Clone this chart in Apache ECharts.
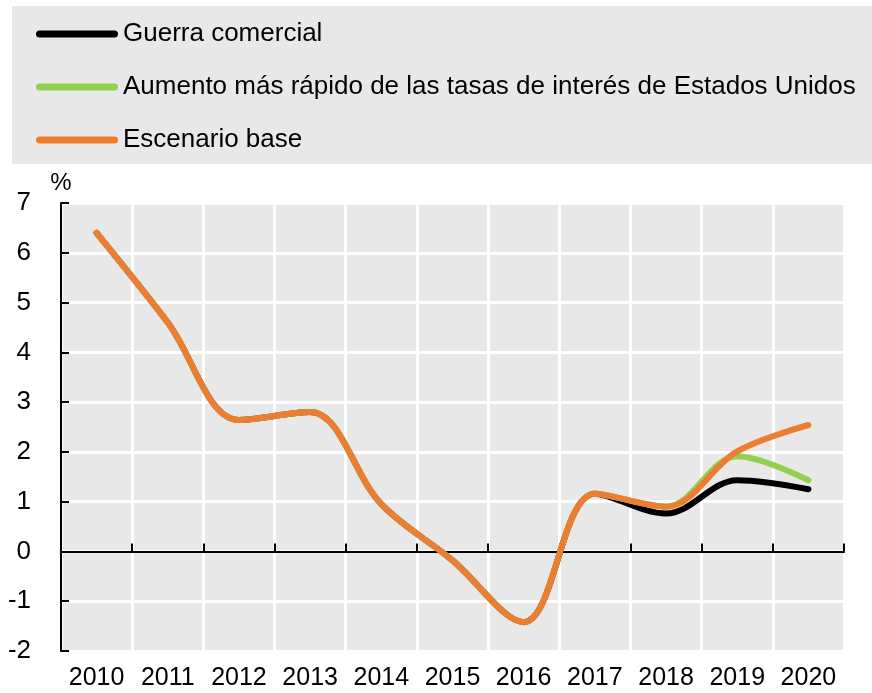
<!DOCTYPE html>
<html>
<head>
<meta charset="utf-8">
<script src="https://cdn.jsdelivr.net/npm/echarts@6/dist/echarts.min.js"></script>
<style>
    html,body{margin:0;padding:0;background:#fff;}
    #chart{width:872px;height:693px;}
</style>
</head>
<body>
<div id="chart"></div>
<script>
    "use strict";
    //年份
    let years = ["2010","2011","2012","2013","2014","2015","2016","2017","2018","2019","2020"];
    //三个情景
    let guerra = [6.4,4.6,2.64,2.8,0.95,-0.18,-1.42,1.16,0.76,1.43,1.25];
    let aumento = [6.4,4.6,2.64,2.8,0.95,-0.18,-1.42,1.16,0.9,1.91,1.43];
    let base = [6.4,4.6,2.64,2.8,0.95,-0.18,-1.42,1.16,0.9,2.01,2.54];
    let names = ["Guerra comercial","Aumento más rápido de las tasas de interés de Estados Unidos","Escenario base"];
    let colors = ["#000000","#92D050","#ED7D31"];

    let fontFam = "'Liberation Sans',Arial,sans-serif";
    //图例图标：圆头粗线
    let legendIcon = "path://M3.5,0 H78.5 A3.5,3.5 0 0 1 78.5,7 H3.5 A3.5,3.5 0 0 1 3.5,0 Z";

    let mkSeries = (name,data,color)=>({
        name:name,
        type:"line",
        data:data,
        smooth:0.35,
        symbol:"none",
        xAxisIndex:0,
        lineStyle:{color:color,width:6,cap:"round",join:"round"},
        itemStyle:{color:color}
    });

    let chart = echarts.init(document.getElementById("chart"));
    let option = {
        animation:false,
        backgroundColor:"#fff",
        graphic:[{
            type:"rect",
            z:-1,
            shape:{x:12,y:6,width:860,height:158},
            style:{fill:"#e8e8e8"}
        }],
        legend:{
            orient:"vertical",
            left:36,
            top:19,
            padding:0,
            icon:legendIcon,
            itemWidth:82,
            itemHeight:7,
            itemGap:23,
            data:names,
            textStyle:{fontFamily:fontFam,fontSize:26,lineHeight:30,color:"#000"}
        },
        grid:{
            left:61,right:28,top:203,bottom:42,
            show:true,backgroundColor:"#e8e8e8",borderWidth:0
        },
        xAxis:[{
            type:"category",
            data:years,
            position:"bottom",
            axisLine:{show:false,onZero:false},
            axisTick:{show:false},
            axisLabel:{fontFamily:fontFam,fontSize:25,color:"#000",margin:15,interval:0},
            splitLine:{show:true,interval:0,lineStyle:{color:"#fff",width:3}}
        },{
            type:"category",
            data:years,
            axisLine:{show:true,onZero:true,lineStyle:{color:"#000",width:2}},
            axisTick:{show:true,interval:0,length:8,lineStyle:{color:"#000",width:2}},
            axisLabel:{show:false},
            splitLine:{show:false}
        }],
        yAxis:{
            type:"value",
            min:-2,max:7,interval:1,
            name:"%",
            nameLocation:"end",
            nameGap:8,
            nameTextStyle:{fontFamily:fontFam,fontSize:24,color:"#000",align:"center"},
            axisLine:{show:true,lineStyle:{color:"#000",width:2}},
            axisTick:{show:true,inside:true,length:8,lineStyle:{color:"#000",width:2}},
            axisLabel:{fontFamily:fontFam,fontSize:26,color:"#000",margin:30},
            splitLine:{show:true,lineStyle:{color:"#fff",width:3}}
        },
        series:[
            mkSeries(names[0],guerra,colors[0]),
            mkSeries(names[1],aumento,colors[1]),
            mkSeries(names[2],base,colors[2])
        ]
    };
    chart.setOption(option);
</script>
</body>
</html>
